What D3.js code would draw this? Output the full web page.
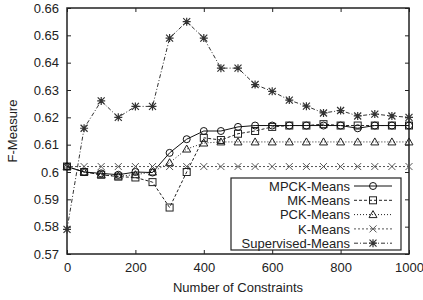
<!DOCTYPE html>
<html><head><meta charset="utf-8">
<script src="https://cdn.jsdelivr.net/npm/d3@7"></script>
<style>
html,body{margin:0;padding:0;background:#fff;}
text{font-family:"Liberation Sans",Arial,Helvetica,sans-serif;fill:#222;}
</style></head>
<body><svg id="c" width="423" height="300"></svg>
<script>
const constraints = [0,50,100,150,200,250,300,350,400,450,500,550,600,650,700,750,800,850,900,950,1000];
const mpckMeans = [0.602,0.600,0.5995,0.599,0.600,0.5998,0.607,0.612,0.615,0.615,0.6165,0.617,0.617,0.617,0.617,0.617,0.617,0.616,0.617,0.617,0.617];
const mkMeans = [0.602,0.600,0.599,0.5983,0.598,0.5963,0.587,0.600,0.6125,0.6117,0.614,0.615,0.6165,0.617,0.617,0.6175,0.617,0.617,0.617,0.617,0.617];
const pckMeans = [0.602,0.6,0.599,0.5985,0.599,0.6,0.6034,0.6084,0.6106,0.611,0.611,0.611,0.611,0.611,0.611,0.611,0.611,0.611,0.611,0.611,0.611];
const kMeans = [0.602,0.602,0.602,0.602,0.602,0.602,0.602,0.602,0.602,0.602,0.602,0.602,0.602,0.602,0.602,0.602,0.602,0.602,0.602,0.602,0.602];
const supervisedMeans = [0.579,0.616,0.626,0.620,0.624,0.624,0.649,0.655,0.649,0.638,0.638,0.632,0.6295,0.6263,0.6241,0.6216,0.6225,0.6205,0.6212,0.6205,0.620];
const xTicks = [0,200,400,600,800,1000];
const yTicks = [0.57,0.58,0.59,0.6,0.61,0.62,0.63,0.64,0.65,0.66];
const seriesNames = ["MPCK-Means","MK-Means","PCK-Means","K-Means","Supervised-Means"];

const series = [
  {name:seriesNames[0], values:mpckMeans, dash:null, marker:"circle", color:"#111"},
  {name:seriesNames[1], values:mkMeans, dash:"3,2", marker:"square", color:"#222"},
  {name:seriesNames[2], values:pckMeans, dash:"1,2", marker:"triangle", color:"#222"},
  {name:seriesNames[3], values:kMeans, dash:"2,2", marker:"x", color:"#555"},
  {name:seriesNames[4], values:supervisedMeans, dash:"4,2,1,2", marker:"star", color:"#333"}
];

const svg = d3.select("#c");
const L=67, R=409, T=8, B=254;
const x = d3.scaleLinear().domain([0,1000]).range([L,R]);
const y = d3.scaleLinear().domain([0.57,0.66]).range([B,T]);
const fmtY = d => String(+d.toFixed(2));

// axes
const gl = svg.append("g").attr("transform",`translate(${L},0)`)
  .call(d3.axisLeft(y).tickValues(yTicks).tickSize(-4).tickPadding(8).tickFormat(fmtY));
const gb = svg.append("g").attr("transform",`translate(0,${B})`)
  .call(d3.axisBottom(x).tickValues(xTicks).tickSize(-4).tickPadding(9).tickFormat(d3.format("d")));
const gr = svg.append("g").attr("transform",`translate(${R},0)`)
  .call(d3.axisRight(y).tickValues(yTicks).tickSize(-4).tickFormat(""));
const gt = svg.append("g").attr("transform",`translate(0,${T})`)
  .call(d3.axisTop(x).tickValues(xTicks).tickSize(-4).tickFormat(""));
[gl,gb,gr,gt].forEach(g=>{
  g.select(".domain").remove();
  g.selectAll(".tick line").attr("stroke","#222").attr("stroke-width",1);
  g.selectAll("text").attr("font-size",13).attr("font-family","Liberation Sans, Arial, sans-serif").attr("fill","#222");
});

svg.append("rect").attr("x",L).attr("y",T).attr("width",R-L).attr("height",B-T)
  .attr("fill","none").attr("stroke","#222").attr("stroke-width",1.5);

// labels
svg.append("text").attr("x",(L+R)/2).attr("y",292).attr("text-anchor","middle")
  .attr("font-size",13).text("Number of Constraints");
svg.append("text").attr("transform",`translate(17,${(T+B)/2}) rotate(-90)`).attr("text-anchor","middle")
  .attr("font-size",13).text("F-Measure");

function drawMarker(g, type, cx, cy, color){
  const s=3.5;
  if(type==="circle"){
    g.append("circle").attr("cx",cx).attr("cy",cy).attr("r",s).attr("fill","none").attr("stroke",color).attr("stroke-width",1);
  } else if(type==="square"){
    g.append("rect").attr("x",cx-s).attr("y",cy-s).attr("width",2*s).attr("height",2*s).attr("fill","none").attr("stroke",color).attr("stroke-width",1);
  } else if(type==="triangle"){
    g.append("path").attr("d",`M${cx},${cy-s-0.5}L${cx+s+0.5},${cy+s-0.5}L${cx-s-0.5},${cy+s-0.5}Z`).attr("fill","none").attr("stroke",color).attr("stroke-width",1);
  } else if(type==="x"){
    g.append("path").attr("d",`M${cx-s},${cy-s}L${cx+s},${cy+s}M${cx-s},${cy+s}L${cx+s},${cy-s}`).attr("stroke",color).attr("stroke-width",1);
  } else if(type==="star"){
    g.append("path").attr("d",`M${cx-s},${cy-s}L${cx+s},${cy+s}M${cx-s},${cy+s}L${cx+s},${cy-s}M${cx-s-0.5},${cy}L${cx+s+0.5},${cy}M${cx},${cy-s-0.5}L${cx},${cy+s+0.5}`).attr("stroke",color).attr("stroke-width",1.2);
  }
}

const line = d3.line().x((d,i)=>x(constraints[i])).y(d=>y(d));
// draw in reverse so MPCK on top
[...series].reverse().forEach(s=>{
  const g = svg.append("g");
  g.append("path").attr("d",line(s.values)).attr("fill","none").attr("stroke",s.color)
    .attr("stroke-width",1).attr("stroke-dasharray",s.dash);
  s.values.forEach((v,i)=>drawMarker(g,s.marker,x(constraints[i]),y(v),s.color));
});

// legend
const lg = svg.append("g");
lg.append("rect").attr("x",231).attr("y",178).attr("width",170).attr("height",72)
  .attr("fill","#fff").attr("stroke","#222").attr("stroke-width",1.2);
series.forEach((s,i)=>{
  const cy = 186 + i*14.3;
  lg.append("text").attr("x",350).attr("y",cy).attr("dy","0.36em").attr("text-anchor","end")
    .attr("font-size",13).text(s.name);
  lg.append("line").attr("x1",354).attr("x2",392).attr("y1",cy).attr("y2",cy)
    .attr("stroke",s.color).attr("stroke-width",1).attr("stroke-dasharray",s.dash);
  drawMarker(lg,s.marker,373,cy,s.color);
});
</script></body></html>
